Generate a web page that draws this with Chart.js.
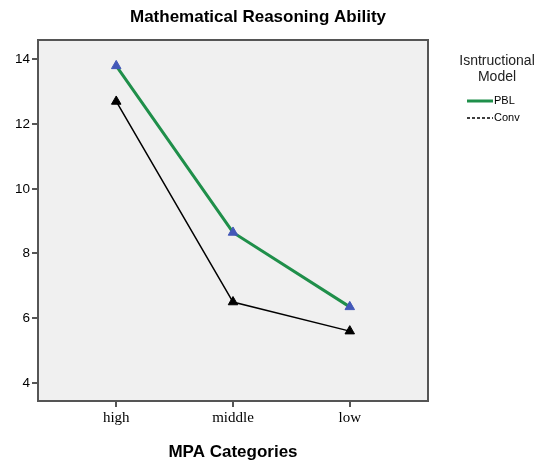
<!DOCTYPE html>
<html>
<head>
<meta charset="utf-8">
<script src="https://cdn.jsdelivr.net/npm/chart.js@4"></script>
<style>
  html, body { margin: 0; padding: 0; background: #fff; }
  #wrap { width: 545px; height: 465px; }
</style>
</head>
<body>
<div id="wrap"><canvas id="lineChart"></canvas></div>
<script>
"use strict";

// data
var categories = ['high', 'middle', 'low'];
var pblValues = [13.8, 8.65, 6.35];
var convValues = [12.7, 6.5, 5.6];
var yTicks = [4, 6, 8, 10, 12, 14];

function toPoints(values) {
	var pts = [];
	for (var i = 0; i < values.length; i++) {
		pts.push({ x: i, y: values[i] });
	}
	return pts;
}

// background, frame, title and legend
var decorPlugin = {
	id: 'decor',
	beforeDraw: function (chart) {
		var ctx = chart.ctx, a = chart.chartArea;
		ctx.save();
		ctx.fillStyle = '#f0f0f0';
		ctx.fillRect(a.left, a.top, a.right - a.left, a.bottom - a.top);
		ctx.restore();
	},
	afterDatasetsDraw: function (chart) {
		var ctx = chart.ctx, a = chart.chartArea;
		ctx.save();
		ctx.strokeStyle = '#555';
		ctx.lineWidth = 2;
		ctx.strokeRect(a.left, a.top, a.right - a.left, a.bottom - a.top);

		ctx.fillStyle = '#000';
		ctx.textAlign = 'center';
		ctx.textBaseline = 'middle';
		ctx.font = 'bold 17px "Liberation Sans", Arial, sans-serif';
		ctx.fillText('Mathematical Reasoning Ability', 258, 17);

		ctx.font = '14px "Liberation Sans", Arial, sans-serif';
		ctx.fillStyle = '#222';
		ctx.fillText('Isntructional', 497, 61);
		ctx.fillText('Model', 497, 77);

		ctx.lineWidth = 3;
		ctx.strokeStyle = '#1f8f4a';
		ctx.beginPath(); ctx.moveTo(467, 101); ctx.lineTo(493, 101); ctx.stroke();
		ctx.lineWidth = 1.5;
		ctx.strokeStyle = '#000';
		ctx.setLineDash([3, 2]);
		ctx.beginPath(); ctx.moveTo(467, 118); ctx.lineTo(493, 118); ctx.stroke();
		ctx.setLineDash([]);

		ctx.textAlign = 'left';
		ctx.font = '11px "Liberation Sans", Arial, sans-serif';
		ctx.fillStyle = '#000';
		ctx.fillText('PBL', 494, 101);
		ctx.fillText('Conv', 494, 118);
		ctx.restore();
	}
};

const context = document.getElementById('lineChart');
const myChart = new Chart(context, {
	type: 'line',
	data: {
		datasets: [{
			label: 'Conv',
			data: toPoints(convValues),
			borderColor: '#000',
			borderWidth: 1.5,
			pointStyle: 'triangle',
			pointRadius: 5.5,
			pointBackgroundColor: '#000',
			pointBorderColor: '#000',
			pointBorderWidth: 1
		}, {
			label: 'PBL',
			data: toPoints(pblValues),
			borderColor: '#1f8f4a',
			borderWidth: 3,
			pointStyle: 'triangle',
			pointRadius: 5.5,
			pointBackgroundColor: '#4358b8',
			pointBorderColor: '#4358b8',
			pointBorderWidth: 1
		}]
	},
	plugins: [decorPlugin],
	options: {
		responsive: true,
		maintainAspectRatio: false,
		animation: false,
		layout: { padding: { left: 0, right: 117, top: 40, bottom: 0 } },
		plugins: {
			legend: { display: false },
			title: { display: false },
			tooltip: { enabled: false }
		},
		scales: {
			x: {
				type: 'linear',
				min: -0.67,
				max: 2.67,
				afterBuildTicks: function (scale) {
					scale.ticks = categories.map(function (c, i) { return { value: i }; });
				},
				afterFit: function (scale) { scale.height = 64; },
				grid: { drawOnChartArea: false, tickLength: 6, color: '#555', lineWidth: 2 },
				border: { display: false },
				ticks: {
					color: '#000',
					padding: 2,
					font: { family: '"Liberation Serif", "Times New Roman", serif', size: 15 },
					callback: function (v) { return categories[v]; }
				},
				title: {
					display: true,
					text: 'MPA Categories',
					color: '#000',
					padding: { top: 0, bottom: 2 },
					font: { family: '"Liberation Sans", Arial, sans-serif', size: 17, weight: 'bold' }
				}
			},
			y: {
				min: 3.44,
				max: 14.6,
				afterBuildTicks: function (scale) {
					scale.ticks = yTicks.map(function (v) { return { value: v }; });
				},
				afterFit: function (scale) { scale.width = 38; },
				grid: { drawOnChartArea: false, tickLength: 6, color: '#555', lineWidth: 2 },
				border: { display: false },
				ticks: {
					color: '#000',
					padding: 2,
					font: { family: '"Liberation Sans", Arial, sans-serif', size: 13.5 }
				}
			}
		}
	}
});
</script>
</body>
</html>
